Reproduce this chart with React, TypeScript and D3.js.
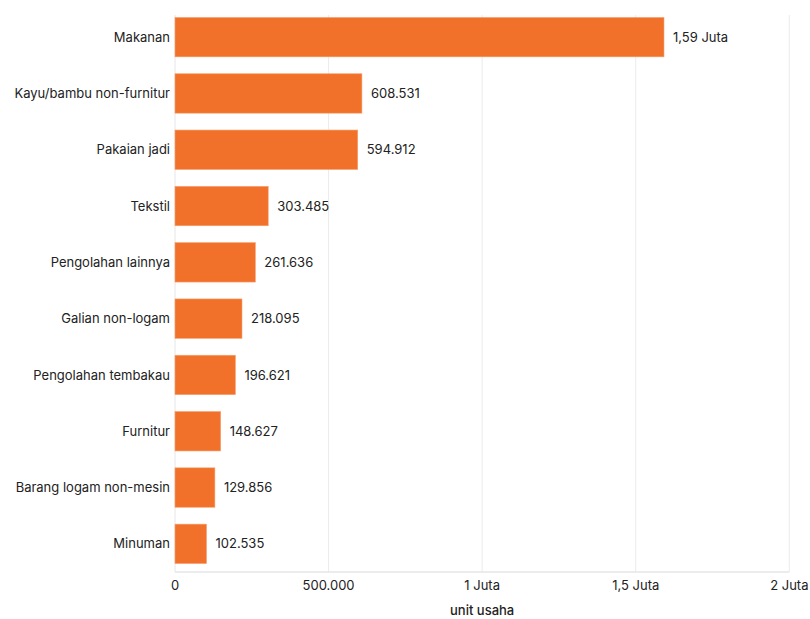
import React from "react";
import * as d3 from "d3";

const categories = [
  "Makanan",
  "Kayu/bambu non-furnitur",
  "Pakaian jadi",
  "Tekstil",
  "Pengolahan lainnya",
  "Galian non-logam",
  "Pengolahan tembakau",
  "Furnitur",
  "Barang logam non-mesin",
  "Minuman",
];
const values = [1592000, 608531, 594912, 303485, 261636, 218095, 196621, 148627, 129856, 102535];
const tickValues = [0, 500000, 1000000, 1500000, 2000000];
const tickLabels = ["0", "500.000", "1 Juta", "1,5 Juta", "2 Juta"];
const axisTitle = "unit usaha";

const W = 810;
const H = 619;
const FONT = "Inter, 'Liberation Sans', Arial, sans-serif";

function fmt(v: number): string {
  if (v >= 1e6) {
    return (Math.floor((v / 1e6) * 100) / 100).toFixed(2).replace(".", ",") + " Juta";
  }
  return Math.round(v).toString().replace(/\B(?=(\d{3})+(?!\d))/g, ".");
}

export default function App() {
  const x = d3.scaleLinear().domain([0, 2000000]).range([175, 789.3]);
  const y = d3
    .scaleBand<string>()
    .domain(categories)
    .range([9, 572])
    .paddingInner(0.3)
    .paddingOuter(0.15);
  const color = "#F1712A";
  const textColor = "#222";

  return (
    <svg
      width={W}
      height={H}
      style={{ position: "absolute", left: 0, top: 0, background: "#fff" }}
      fontFamily={FONT}
    >
      {tickValues.map((t, i) =>
        i === 0 ? null : (
          <line
            key={"g" + i}
            x1={x(t)}
            x2={x(t)}
            y1={15}
            y2={572}
            stroke="#ebebeb"
            strokeWidth={1}
          />
        )
      )}
      <line x1={x(0)} x2={x(0)} y1={15} y2={572} stroke="#e6e6e6" />
      <line x1={x(0)} x2={x(2000000)} y1={572} y2={572} stroke="#e6e6e6" strokeWidth={1.5} />
      {categories.map((c, i) => {
        const yy = y(c)!;
        const bw = y.bandwidth();
        return (
          <g key={c}>
            <rect
              x={x(0)}
              y={yy}
              width={x(values[i]) - x(0)}
              height={bw}
              fill={color}
              stroke="#f6a06e"
              strokeWidth={0.6}
            />
            <text
              x={170}
              y={yy + bw / 2}
              dy="0.35em"
              textAnchor="end"
              fontSize={13}
              fill={textColor}
            >
              {c}
            </text>
            <text
              x={x(values[i]) + 9}
              y={yy + bw / 2}
              dy="0.35em"
              textAnchor="start"
              fontSize={13}
              fill={textColor}
            >
              {fmt(values[i])}
            </text>
          </g>
        );
      })}
      {tickValues.map((t, i) => (
        <text
          key={"t" + i}
          x={x(t)}
          y={585}
          dy="0.35em"
          textAnchor="middle"
          fontSize={13}
          fill={textColor}
        >
          {tickLabels[i]}
        </text>
      ))}
      <text
        x={x(1000000)}
        y={610}
        dy="0.35em"
        textAnchor="middle"
        fontSize={13}
        fontWeight={500}
        fill={textColor}
      >
        {axisTitle}
      </text>
    </svg>
  );
}
